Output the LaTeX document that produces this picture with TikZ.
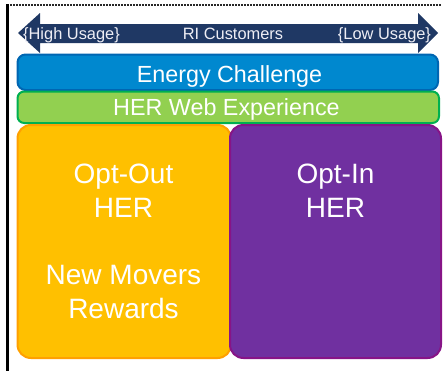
\documentclass[tikz,border=0pt]{standalone}
\usepackage{fontspec}
\setmainfont{Liberation Sans}

\begin{document}
\begin{tikzpicture}[x=0.75pt,y=0.75pt,yscale=-1,xscale=1,
  lbl/.style={anchor=base,inner sep=0.75pt,text=white},
  big/.style={lbl,font=\fontsize{21}{25}\selectfont},
  bar/.style={lbl,font=\fontsize{17.5}{21}\selectfont},
  tag/.style={lbl,font=\fontsize{12.3}{15}\selectfont,text={rgb,255:red,238;green,238;blue,245}}]
\useasboundingbox (0,0) rectangle (444,371);

%Frame lines
\draw [color={rgb, 255:red, 40; green, 40; blue, 40 }, line width=1.5, dash pattern=on 1.5pt off 0.75pt] (7,5) -- (441,5) ;
\draw [line width=2] (7.5,4) -- (7.5,371) ;

%Shape: Double Arrow
\draw [draw opacity=0][fill={rgb, 255:red, 31; green, 56; blue, 100 }, fill opacity=1 ] (18,33) -- (40,13) -- (40,24) -- (418,24) -- (418,13) -- (438,33) -- (418,53) -- (418,43) -- (40,43) -- (40,53) -- cycle ;

%Shape: Rounded Rect (blue bar)
\draw [color={rgb, 255:red, 0; green, 102; blue, 178 }, fill={rgb, 255:red, 0; green, 136; blue, 207 }, line width=1.5, rounded corners=6] (17.5,54.5) rectangle (438,90) ;
%Shape: Rounded Rect (green bar)
\draw [color={rgb, 255:red, 0; green, 176; blue, 80 }, fill={rgb, 255:red, 146; green, 208; blue, 80 }, line width=1.5, rounded corners=5] (17.5,91.5) rectangle (439,123) ;
%Shape: Rounded Rect (orange box)
\draw [color={rgb, 255:red, 255; green, 160; blue, 0 }, fill={rgb, 255:red, 255; green, 192; blue, 0 }, line width=1.5, rounded corners=10] (17.5,125) rectangle (231,358) ;
%Shape: Rounded Rect (purple box)
\draw [color={rgb, 255:red, 135; green, 20; blue, 135 }, fill={rgb, 255:red, 112; green, 48; blue, 160 }, line width=1.5, rounded corners=10] (230,125) rectangle (441,358) ;

% Text Node
\node [tag] (high) at (71.5,39.5) {\{High Usage\}};
% Text Node
\node [tag] (cust) at (233,39.5) {RI Customers};
% Text Node
\node [tag] (low) at (384.5,39.5) {\{Low Usage\}};
% Text Node
\node [bar] (energy) at (229.5,82) {Energy Challenge};
% Text Node
\node [bar] (web) at (226.5,115) {HER Web Experience};
% Text Node
\node [big] (optout) at (123.5,184) {Opt-Out};
\node [big] (outher) at (123.5,218) {HER};
% Text Node
\node [big] (movers) at (123.5,285) {New Movers};
\node [big] (rewards) at (123.5,318) {Rewards};
% Text Node
\node [big] (optin) at (335.5,184) {Opt-In};
\node [big] (inher) at (335.5,218) {HER};

\end{tikzpicture}
\end{document}
